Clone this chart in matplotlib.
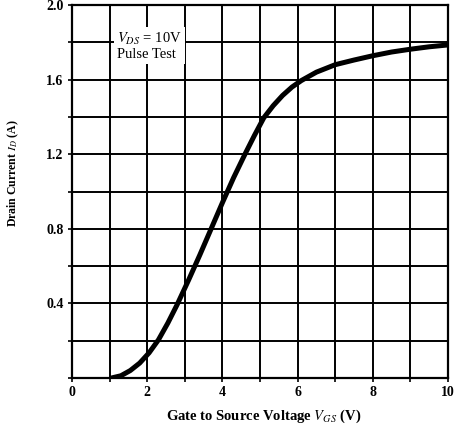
import matplotlib
matplotlib.use("Agg")
import matplotlib.pyplot as plt
from matplotlib.ticker import MultipleLocator

plt.rcParams["font.family"] = "Liberation Serif"
plt.rcParams["mathtext.fontset"] = "stix"

# transfer characteristic
vgs = [1.05, 1.3, 1.55, 1.8, 2.05, 2.3, 2.55, 2.8, 3.1, 3.4, 3.7, 4.0, 4.3,
       4.6, 4.85, 5.1, 5.35, 5.6, 5.85, 6.1, 6.5, 7.0, 7.5, 8.0, 8.5, 9.0,
       9.5, 10.0]
i_d = [0.0, 0.012, 0.04, 0.08, 0.135, 0.205, 0.295, 0.395, 0.525, 0.66,
       0.80, 0.94, 1.075, 1.20, 1.30, 1.395, 1.46, 1.515, 1.56, 1.595, 1.64,
       1.68, 1.705, 1.728, 1.748, 1.763, 1.776, 1.786]

x_ticks = [0, 2, 4, 6, 8, 10]
y_ticks = [0, 0.4, 0.8, 1.2, 1.6, 2.0]
y_labels = ["", "0.4", "0.8", "1.2", "1.6", "2.0"]

fig = plt.figure(figsize=(4.54, 4.29), dpi=100)
ax = fig.add_axes([0.1586, 0.1189, 0.8282, 0.8694])

ax.set_xlim(0, 10)
ax.set_ylim(0, 2.0)
ax.xaxis.set_minor_locator(MultipleLocator(1))
ax.yaxis.set_minor_locator(MultipleLocator(0.2))
ax.set_xticks(x_ticks)
ax.set_xticklabels([str(t) for t in x_ticks], fontweight="bold", fontsize=10)
ax.set_yticks(y_ticks)
ax.set_yticklabels(y_labels, fontweight="bold", fontsize=10)
ax.grid(True, which="both", color="black", linewidth=1.4)
ax.set_axisbelow(True)
ax.tick_params(which="both", direction="out", length=3, width=1.2,
               color="black")
ax.tick_params(axis="x", pad=3)
ax.tick_params(axis="y", pad=3)
for s in ax.spines.values():
    s.set_linewidth(1.6)

ax.plot(vgs, i_d, color="black", linewidth=3.6, solid_capstyle="round",
        zorder=3)

ax.text(1.2, 1.78, "$V_{DS}$ = 10V\nPulse Test", fontsize=10.5,
        ha="left", va="center", linespacing=1.1, zorder=4,
        bbox=dict(facecolor="white", edgecolor="none", pad=2))

ax.set_xlabel("Gate to Source Voltage $V_{GS}$ (V)", fontsize=10.5,
              fontweight="bold")
ax.xaxis.set_label_coords(0.51, -0.08)
ax.set_ylabel("Drain Current $I_D$ (A)", fontsize=8.5, fontweight="bold")
ax.yaxis.set_label_coords(-0.135, 0.55)

fig.savefig("out.png", dpi=100)
